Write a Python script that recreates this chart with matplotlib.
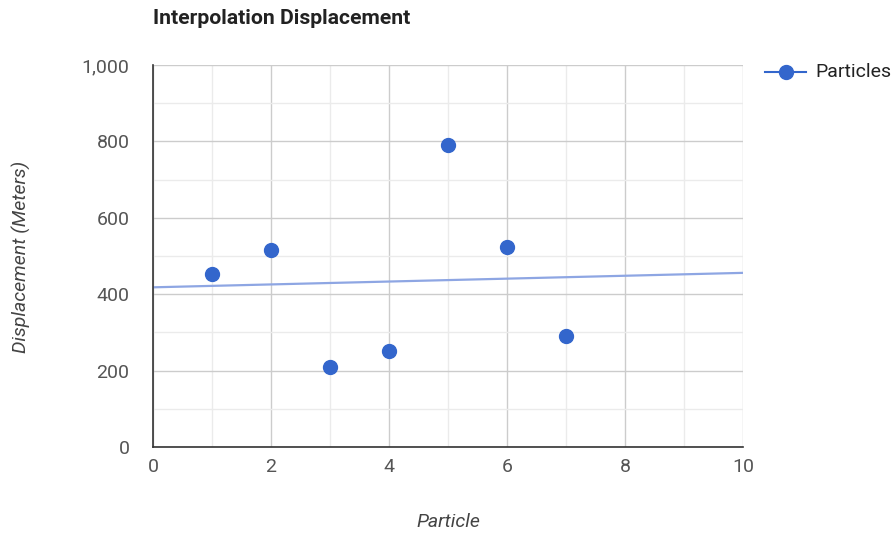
import numpy as np
import matplotlib as mpl
mpl.use("Agg")
import matplotlib.pyplot as plt
from matplotlib.ticker import MultipleLocator, FuncFormatter

# data
particle = [1, 2, 3, 4, 5, 6, 7]
displacement = [453, 516, 209, 251, 790, 523, 290]

plt.rcParams['font.family'] = ['Roboto', 'DejaVu Sans']

fig = plt.figure(figsize=(8.96, 5.33), dpi=100)
ax = fig.add_axes([153 / 896, 86 / 533, 590 / 896, 382 / 533])

blue = '#3366cc'

# linear trendline
coef = np.polyfit(particle, displacement, 1)
tx = np.array([0, 10])
ax.plot(tx, np.polyval(coef, tx), color='#8ea6e3', lw=1.6, zorder=2)

ax.plot(particle, displacement, 'o', color=blue, markersize=10, zorder=3)

ax.set_xlim(0, 10)
ax.set_ylim(0, 1000)
ax.xaxis.set_major_locator(MultipleLocator(2))
ax.xaxis.set_minor_locator(MultipleLocator(1))
ax.yaxis.set_major_locator(MultipleLocator(200))
ax.yaxis.set_minor_locator(MultipleLocator(100))
ax.yaxis.set_major_formatter(FuncFormatter(lambda v, p: '{:,.0f}'.format(v)))

ax.grid(which='major', color='#cccccc', lw=1.0, zorder=0)
ax.grid(which='minor', color='#ebebeb', lw=1.0, zorder=0)
ax.set_axisbelow(True)

for s in ['top', 'right']:
    ax.spines[s].set_visible(False)
for s in ['left', 'bottom']:
    ax.spines[s].set_color('#333333')
    ax.spines[s].set_linewidth(1.2)
    ax.spines[s].set_zorder(4)

ax.tick_params(which='both', length=0, labelsize=14, labelcolor='#555555')
ax.tick_params(axis='x', pad=8)
ax.tick_params(axis='y', pad=17)

fs = 14
fig.text(448 / 896, 1 - 522 / 533, 'Particle', fontsize=fs, style='italic',
         color='#444444', ha='center', va='center')
fig.text(21 / 896, 1 - 257 / 533, 'Displacement (Meters)', fontsize=fs,
         style='italic', color='#444444', ha='center', va='center', rotation=90)

fig.text(153 / 896, 1 - 18 / 533, 'Interpolation Displacement', fontsize=15.2,
         fontweight='bold', color='#222222', va='center', ha='left')

# legend
fig.lines.append(plt.Line2D([765 / 896, 806 / 896], [1 - 72 / 533] * 2,
                            color=blue, lw=1.5, transform=fig.transFigure))
fig.lines.append(plt.Line2D([785.5 / 896], [1 - 72 / 533], marker='o',
                            color=blue, markersize=10, transform=fig.transFigure))
fig.text(815 / 896, 1 - 72 / 533, 'Particles', fontsize=fs, color='#222222',
         va='center', ha='left')

plt.savefig('out.png', dpi=100)
